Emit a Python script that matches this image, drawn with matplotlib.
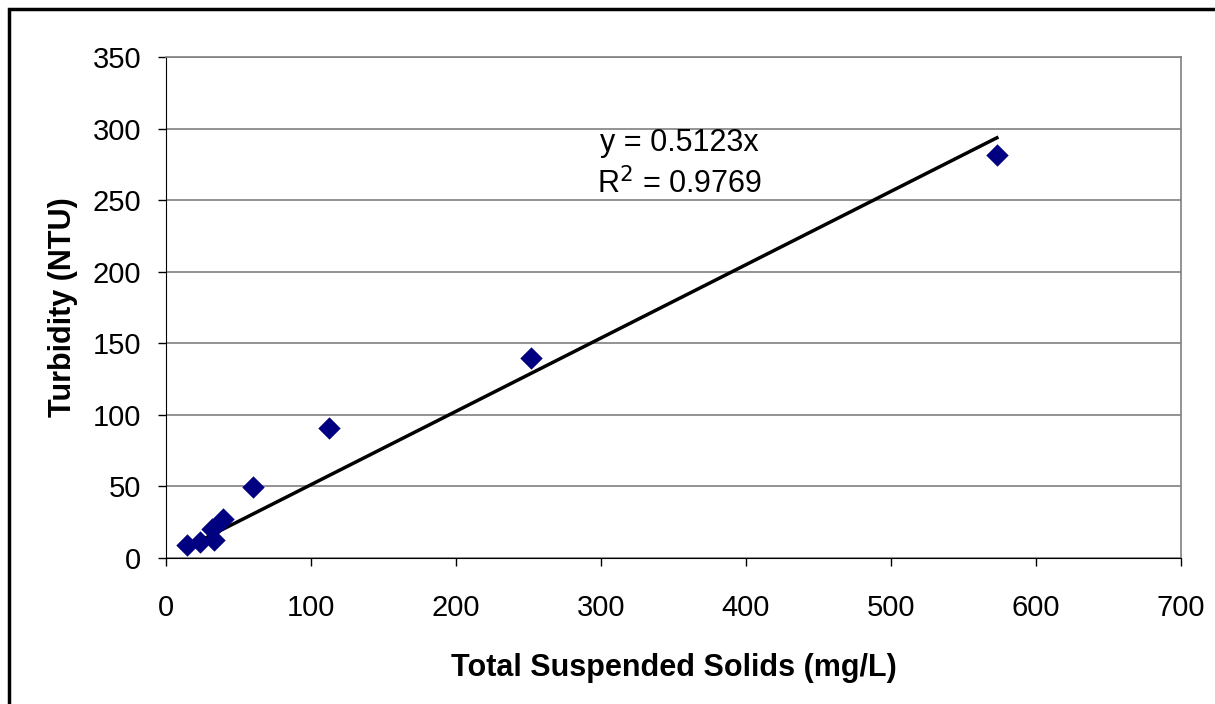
import numpy as np
import matplotlib.pyplot as plt
from matplotlib.patches import Rectangle

plt.rcParams['font.family'] = ['Liberation Sans', 'DejaVu Sans']

# data
tss = [14.3, 23.3, 31.5, 33.3, 39.5, 60.2, 112.6, 251.6, 573.0]
turbidity = [9.1, 11.4, 20.0, 12.6, 27.0, 49.5, 90.6, 140.0, 281.5]
slope = 0.5123
r2 = 0.9769

fig = plt.figure(figsize=(12.15, 7.04), dpi=100)
ax = fig.add_axes([166/1215, 1-558/704, (1181-166)/1215, (558-57)/704])

# outer chart frame (cut off at right and bottom)
fig.patches.append(Rectangle((9/1215, -0.1), 1.2, 1-9/704+0.1, transform=fig.transFigure,
                             fill=False, edgecolor='black', linewidth=2.5))

# trend line through origin
xfit = np.array([min(tss), max(tss)])
ax.plot(xfit, slope*xfit, color='black', linewidth=2.5, zorder=2)
ax.scatter(tss, turbidity, marker='D', s=130, color='#000080', zorder=3, linewidths=0)

ax.set_xlim(0, 700)
ax.set_ylim(0, 350)
ax.set_xticks(np.arange(0, 701, 100))
ax.set_yticks(np.arange(0, 351, 50))
ax.yaxis.grid(True, color='#808080', linewidth=1.2)
ax.set_axisbelow(True)
ax.spines['top'].set_color('#808080')
ax.spines['right'].set_color('#808080')
ax.spines['top'].set_linewidth(1.2)
ax.spines['right'].set_linewidth(1.2)
ax.tick_params(axis='both', labelsize=21, length=6, direction='out', width=1)
ax.tick_params(axis='x', pad=20)
ax.tick_params(axis='y', pad=12)

ax.set_xlabel('Total Suspended Solids (mg/L)', fontsize=22, fontweight='bold', labelpad=22)
ax.set_ylabel('Turbidity (NTU)', fontsize=22, fontweight='bold', labelpad=10)

ax.text(354, 290, f'y = {slope}x', fontsize=22, ha='center', va='center')
ax.text(354, 261, f'R$^2$ = {r2}', fontsize=22, ha='center', va='center')

plt.savefig('out.png', dpi=100)
